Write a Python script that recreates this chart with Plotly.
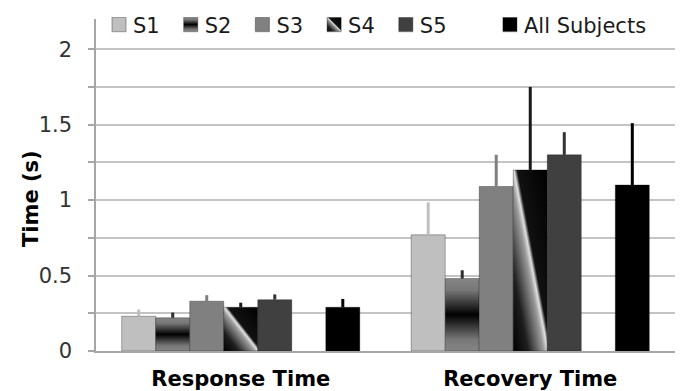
import plotly.graph_objects as go

# Mean times (s) and upper error amounts per subject, for each measure
categories = ["Response Time", "Recovery Time"]
series_names = ["S1", "S2", "S3", "S4", "S5", "All Subjects"]
values = {
    "S1": [0.23, 0.77],
    "S2": [0.22, 0.48],
    "S3": [0.33, 1.09],
    "S4": [0.29, 1.20],
    "S5": [0.34, 1.30],
    "All Subjects": [0.29, 1.10],
}
errors = {
    "S1": [0.045, 0.215],
    "S2": [0.035, 0.055],
    "S3": [0.04, 0.21],
    "S4": [0.03, 0.55],
    "S5": [0.035, 0.15],
    "All Subjects": [0.055, 0.41],
}
y_ticks = [0, 0.5, 1, 1.5, 2]
y_tick_text = ["0", "0.5", "1", "1.5", "2"]
y_title = "Time (s)"

# Styling
FONT = "DejaVu Sans"
fills = {"S1": "#bfbfbf", "S2": "#6e6e6e", "S3": "#808080",
         "S4": "#3a3a3a", "S5": "#404040", "All Subjects": "#000000"}
err_colors = {"S1": "#bfbfbf", "S2": "#2e2e2e", "S3": "#808080",
              "S4": "#1a1a1a", "S5": "#333333", "All Subjects": "#000000"}
# slot of each series inside a category group (slot 5 is left empty)
slots = {"S1": 0, "S2": 1, "S3": 2, "S4": 3, "S5": 4, "All Subjects": 6}
n_slots = 7
slot_w = 0.1175

fig = go.Figure()
for name in series_names:
    fig.add_trace(go.Bar(
        x=categories,
        y=values[name],
        name=name,
        width=slot_w,
        offset=-n_slots * slot_w / 2 + slots[name] * slot_w,
        marker=dict(color=fills[name], line=dict(width=1, color="rgba(0,0,0,0.3)")),
        error_y=dict(type="data", array=errors[name], arrayminus=[0] * len(categories),
                     symmetric=False, width=0, thickness=3, color=err_colors[name]),
        legend="legend2" if name == "All Subjects" else "legend",
    ))

legend_common = dict(orientation="h", yanchor="top", y=1.032, xanchor="left",
                     bgcolor="rgba(255,255,255,0)", borderwidth=0,
                     font=dict(family=FONT, size=21, color="#1a1a1a"))

fig.update_layout(
    width=683, height=391,
    margin=dict(l=96, r=8, t=11, b=40),
    paper_bgcolor="white", plot_bgcolor="white",
    barmode="overlay",
    showlegend=True,
    legend=dict(x=0, **legend_common),
    legend2=dict(x=0.670, **legend_common),
    font=dict(family=FONT, color="#333333"),
    xaxis=dict(
        type="category", categoryorder="array", categoryarray=categories,
        automargin=False,
        showline=True, linecolor="#a6a6a6", linewidth=1.5,
        showgrid=False, ticks="", ticklabelstandoff=8,
        tickfont=dict(family=FONT, size=21, color="#000000", weight="bold"),
    ),
    yaxis=dict(
        range=[0, 2.2], automargin=False,
        tickvals=y_ticks, ticktext=y_tick_text,
        showline=True, linecolor="#a6a6a6", linewidth=1.5,
        ticks="outside", ticklen=6, tickcolor="#a6a6a6", tickwidth=1.5,
        showgrid=True, gridcolor="#c4c4c4", gridwidth=1.5,
        zeroline=False,
        minor=dict(dtick=0.25, tick0=0, showgrid=True, gridcolor="#c4c4c4", gridwidth=1.5,
                   ticks="outside", ticklen=6, tickcolor="#a6a6a6", tickwidth=1.5),
        tickfont=dict(family=FONT, size=21, color="#333333"),
        ticklabelstandoff=12,
    ),
    annotations=[dict(
        text=y_title, textangle=-90, showarrow=False,
        xref="paper", yref="paper", x=-0.111, y=0.46, xanchor="center", yanchor="middle",
        font=dict(family=FONT, size=21, color="#000000", weight="bold"),
    )],
)

# Gradient fills for S2 (vertical band) and S4 (diagonal sheen), applied to bars and legend swatches
post_js = """
var gd = document.getElementById('{plot_id}');
var NS = 'http://www.w3.org/2000/svg';
var svg = gd.querySelector('svg.main-svg');
var defs = document.createElementNS(NS, 'defs');
svg.insertBefore(defs, svg.firstChild);
function grad(id, x1, y1, x2, y2, stops) {
  var g = document.createElementNS(NS, 'linearGradient');
  g.setAttribute('id', id);
  g.setAttribute('x1', x1); g.setAttribute('y1', y1);
  g.setAttribute('x2', x2); g.setAttribute('y2', y2);
  stops.forEach(function (s) {
    var st = document.createElementNS(NS, 'stop');
    st.setAttribute('offset', s[0]);
    st.setAttribute('stop-color', s[1]);
    g.appendChild(st);
  });
  defs.appendChild(g);
}
grad('gradS2', 0, 0, 0, 1, [[0, '#858585'], [0.16, '#777777'], [0.5, '#000000'],
                           [0.84, '#777777'], [1, '#858585']]);
grad('gradS4', 0, 1, 1, 0, [[0, '#000000'], [0.22, '#1e1e1e'], [0.45, '#9a9a9a'],
                           [0.51, '#e0e0e0'], [0.56, '#111111'], [1, '#000000']]);
var fillByName = {'S2': 'url(#gradS2)', 'S4': 'url(#gradS4)'};
gd.querySelectorAll('.barlayer .trace').forEach(function (tr) {
  var name = tr.__data__[0].trace.name;
  if (fillByName[name]) {
    tr.querySelectorAll('.point path').forEach(function (p) { p.style.fill = fillByName[name]; });
  }
});
gd.querySelectorAll('g.legend .traces, g.legend2 .traces').forEach(function (tr) {
  var name = tr.__data__[0].trace.name;
  tr.querySelectorAll('.legendpoints path').forEach(function (p) {
    if (fillByName[name]) { p.style.fill = fillByName[name]; }
    p.setAttribute('transform', (p.getAttribute('transform') || '') + ' translate(6,0) scale(1.17)');
  });
});
// nudge the legend rows up into the band above the top gridline
var lg = gd.querySelector('g.legend');
if (lg) { lg.setAttribute('transform', (lg.getAttribute('transform') || '') + ' translate(-3,-4)'); }
var lg2 = gd.querySelector('g.legend2');
if (lg2) { lg2.setAttribute('transform', (lg2.getAttribute('transform') || '') + ' translate(0,-4)'); }
"""

fig.write_html("out.html", post_script=post_js)
